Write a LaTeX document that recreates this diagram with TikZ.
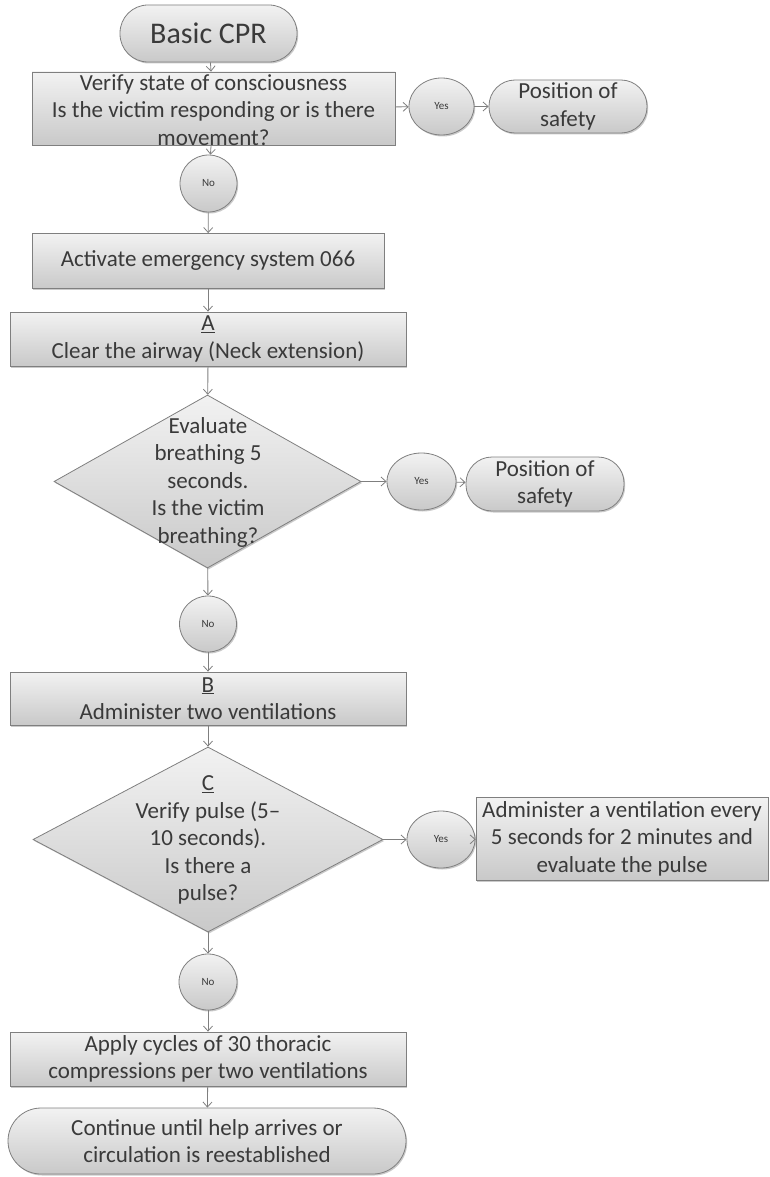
\documentclass[tikz,border=0pt]{standalone}
\usepackage{fontspec}
\setmainfont{Carlito}
\usetikzlibrary{shapes.geometric,arrows.meta,shadows}
\definecolor{edgegray}{HTML}{7F7F7F}
\definecolor{txtgray}{HTML}{3A3A3A}
\definecolor{filltop}{HTML}{F2F2F2}
\definecolor{fillbot}{HTML}{C9C9C9}
\tikzset{
  base/.style={draw=edgegray, line width=0.8pt, top color=filltop, bottom color=fillbot,
    inner sep=0pt, text=txtgray,
    drop shadow={shadow xshift=1.2pt, shadow yshift=-1.5pt, opacity=0.35, fill=black!60}},
  boxnode/.style={base, rectangle, align=center, font=\bodyfont},
  term/.style={base, rectangle, align=center, font=\bodyfont},
  oval/.style={base, ellipse, font=\fontsize{11}{12}\selectfont},
  dec/.style={base, diamond, aspect=1.7},
  txt/.style={text=txtgray, align=center, font=\bodyfont, inner sep=0pt},
  conn/.style={draw=edgegray, line width=0.8pt, -{Straight Barb[length=5pt,width=9pt]}},
}
\newcommand{\bodyfont}{\fontsize{23}{27.5}\selectfont}
\begin{document}
\begin{tikzpicture}[x=1pt,y=-1pt]
\useasboundingbox (0,0) rectangle (770,1177);
% nodes
\node[term, minimum width=177pt, minimum height=57pt, rounded corners=28pt,
  font=\fontsize{30}{32}\selectfont] (start) at (208.5,33.5) {Basic CPR};
\node[boxnode, minimum width=363pt, minimum height=73pt] (v) at (213.5,108.5) {};
\node[txt] (vt) at (213.5,110) {Verify state of consciousness\\Is the victim responding or is there\\movement?};
\node[oval, minimum width=65pt, minimum height=57pt] (yes1) at (441.5,106.5) {Yes};
\node[term, minimum width=158pt, minimum height=53pt, rounded corners=26pt] (pos1) at (568,106.5) {Position of\\safety};
\node[oval, minimum width=57pt, minimum height=57pt] (no1) at (208.5,183.5) {No};
\node[boxnode, minimum width=352pt, minimum height=55pt] (act) at (208,261) {Activate emergency system 066};
\node[boxnode, minimum width=396pt, minimum height=54pt] (a) at (208,339) {\underline{A}\\Clear the airway (Neck extension)};
\node[dec, minimum width=307pt, minimum height=173pt] (d1) at (207.5,481.5) {};
\node[txt] (d1t) at (208,482) {Evaluate\\breathing 5\\seconds.\\Is the victim\\breathing?};
\node[oval, minimum width=69pt, minimum height=57pt] (yes2) at (421.5,481.5) {Yes};
\node[term, minimum width=158pt, minimum height=54pt, rounded corners=26pt] (pos2) at (545,484) {Position of\\safety};
\node[oval, minimum width=57pt, minimum height=56pt] (no2) at (208,624) {No};
\node[boxnode, minimum width=396pt, minimum height=53pt] (b) at (208,698.5) {\underline{B}\\Administer two ventilations};
\node[dec, minimum width=350pt, minimum height=185pt] (d2) at (208,839.5) {};
\node[txt] (d2t) at (208,840) {\underline{C}\\Verify pulse (5–\\10 seconds).\\Is there a\\pulse?};
\node[oval, minimum width=68pt, minimum height=57pt] (yes3) at (441,839.5) {Yes};
\node[boxnode, minimum width=292pt, minimum height=83pt] (adm) at (622,838.5) {Administer a ventilation every\\5 seconds for 2 minutes and\\evaluate the pulse};
\node[oval, minimum width=58pt, minimum height=56pt] (no3) at (208,982) {No};
\node[boxnode, minimum width=396pt, minimum height=54pt] (apply) at (208,1059) {Apply cycles of 30 thoracic\\compressions per two ventilations};
\node[term, minimum width=398pt, minimum height=66pt, rounded corners=33pt] (cont) at (207,1141) {Continue until help arrives or\\circulation is reestablished};
% connectors
\draw[conn] (start) -- (v);
\draw[conn] (v) -- (yes1);
\draw[conn] (yes1) -- (pos1);
\draw[conn] (v) -- (no1);
\draw[conn] (no1) -- (act);
\draw[conn] (act) -- (a);
\draw[conn] (a) -- (d1);
\draw[conn] (d1) -- (yes2);
\draw[conn] (yes2) -- (pos2);
\draw[conn] (d1) -- (no2);
\draw[conn] (no2) -- (b);
\draw[conn] (b) -- (d2);
\draw[conn] (d2) -- (yes3);
\draw[conn] (yes3) -- (adm);
\draw[conn] (d2) -- (no3);
\draw[conn] (no3) -- (apply);
\draw[conn] (apply) -- (cont);
\end{tikzpicture}
\end{document}
